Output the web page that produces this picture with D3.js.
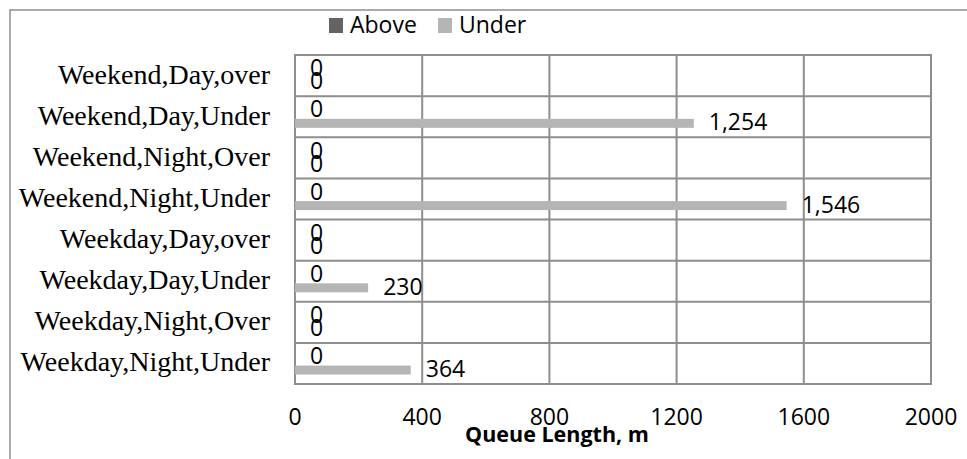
<!DOCTYPE html>
<html>
<head>
<meta charset="utf-8">
<script src="https://cdn.jsdelivr.net/npm/d3@7"></script>
<style>
  body { margin: 0; background: #fff; }
  svg { display: block; }
</style>
</head>
<body>
<svg id="chart" width="967" height="459"></svg>
<script>
// categories top to bottom
const categories = [
  "Weekend,Day,over",
  "Weekend,Day,Under",
  "Weekend,Night,Over",
  "Weekend,Night,Under",
  "Weekday,Day,over",
  "Weekday,Day,Under",
  "Weekday,Night,Over",
  "Weekday,Night,Under"
]
const seriesNames = ["Above", "Under"]
const aboveValues = [0, 0, 0, 0, 0, 0, 0, 0]
const underValues = [0, 1254, 0, 1546, 0, 230, 0, 364]
const xTicks = [0, 400, 800, 1200, 1600, 2000]

const colors = { Above: "#636363", Under: "#b5b5b5" }
const gridColor = "#8e8e8e"

const rows = categories.map((c, i) => ({
  cat: c,
  vals: [
    { key: "Above", v: aboveValues[i] },
    { key: "Under", v: underValues[i] }
  ]
}))

const svg = d3.select("#chart")

// outer chart frame (runs off the right/bottom edge)
svg.append("rect")
  .attr("x", 10).attr("y", 10)
  .attr("width", 980).attr("height", 470)
  .attr("fill", "none")
  .attr("stroke", gridColor)
  .attr("stroke-width", 1.5)

const x = d3.scaleLinear().domain([0, 2000]).range([295, 931])
const y0 = d3.scaleBand().domain(categories).range([55, 384]).padding(0)
const y1 = d3.scaleBand().domain(seriesNames).range([13.7, 31.7]).padding(0)

const fmt = d3.format(",")

// gridlines
const grid = svg.append("g")
grid.selectAll("line.v")
  .data(xTicks)
  .enter().append("line")
  .attr("x1", d => x(d)).attr("x2", d => x(d))
  .attr("y1", 55).attr("y2", 384)
  .attr("stroke", gridColor).attr("stroke-width", 2)

grid.selectAll("line.h")
  .data(categories.concat(["end"]))
  .enter().append("line")
  .attr("x1", x(0) - 1).attr("x2", x(2000) + 1)
  .attr("y1", (d, i) => 55 + i * y0.bandwidth())
  .attr("y2", (d, i) => 55 + i * y0.bandwidth())
  .attr("stroke", gridColor).attr("stroke-width", 2)

// bars
const groups = svg.append("g").selectAll("g.row")
  .data(rows)
  .enter().append("g")
  .attr("transform", d => `translate(0,${y0(d.cat)})`)

groups.selectAll("rect")
  .data(d => d.vals)
  .enter().append("rect")
  .attr("x", x(0))
  .attr("y", d => y1(d.key))
  .attr("width", d => x(d.v) - x(0))
  .attr("height", y1.bandwidth())
  .attr("fill", d => colors[d.key])

// data labels
groups.selectAll("text.lbl")
  .data(d => d.vals)
  .enter().append("text")
  .attr("class", "lbl")
  .attr("x", d => x(d.v) + 15)
  .attr("y", d => y1(d.key) + y1.bandwidth() / 2 + (d.key === "Above" ? -3 : 1))
  .attr("dominant-baseline", "middle")
  .attr("font-family", "'Open Sans', sans-serif")
  .attr("font-size", 23)
  .attr("fill", "#000")
  .text(d => fmt(d.v))

// category labels
svg.append("g").selectAll("text")
  .data(categories)
  .enter().append("text")
  .attr("x", 270)
  .attr("y", d => y0(d) + y0.bandwidth() / 2 + 8)
  .attr("text-anchor", "end")
  .attr("font-family", "'Liberation Serif', 'Times New Roman', serif")
  .attr("font-size", 28)
  .attr("fill", "#000")
  .text(d => d)

// x tick labels
svg.append("g").selectAll("text")
  .data(xTicks)
  .enter().append("text")
  .attr("x", d => x(d))
  .attr("y", 425)
  .attr("text-anchor", "middle")
  .attr("font-family", "'Open Sans', sans-serif")
  .attr("font-size", 23)
  .attr("fill", "#000")
  .text(d => d)

// axis title
svg.append("text")
  .attr("x", 557)
  .attr("y", 442)
  .attr("text-anchor", "middle")
  .attr("font-family", "'Open Sans', sans-serif")
  .attr("font-weight", "bold")
  .attr("font-size", 21.5)
  .attr("fill", "#000")
  .text("Queue Length, m")

// legend
const legendX = [329, 438]
const legend = svg.append("g").selectAll("g")
  .data(seriesNames)
  .enter().append("g")
  .attr("transform", (d, i) => `translate(${legendX[i]},18)`)

legend.append("rect")
  .attr("width", 14).attr("height", 15)
  .attr("fill", d => colors[d])

legend.append("text")
  .attr("x", 21)
  .attr("y", 15)
  .attr("font-family", "'Open Sans', sans-serif")
  .attr("font-size", 23)
  .attr("fill", "#000")
  .text(d => d)
</script>
</body>
</html>
